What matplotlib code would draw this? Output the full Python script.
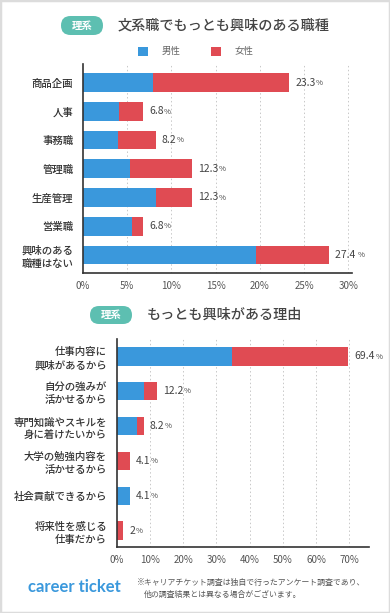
import matplotlib
matplotlib.use('Agg')
import matplotlib.pyplot as plt
from matplotlib.patches import FancyBboxPatch, Rectangle

plt.rcParams['font.family'] = ['Noto Sans CJK JP', 'DejaVu Sans']

# 文系職でもっとも興味のある職種
top_cats = ['商品企画', '人事', '事務職', '管理職', '生産管理', '営業職', '興味のある\n職種はない']
top_male = [7.9, 4.1, 4.0, 5.3, 8.2, 5.5, 19.5]
top_female = [15.4, 2.7, 4.2, 7.0, 4.1, 1.3, 8.3]
top_labels = ['23.3', '6.8', '8.2', '12.3', '12.3', '6.8', '27.4 ']
top_ticks = [0, 5, 10, 15, 20, 25, 30]

# もっとも興味がある理由
bot_cats = ['仕事内容に\n興味があるから', '自分の強みが\n活かせるから', '専門知識やスキルを\n身に着けたいから',
            '大学の勉強内容を\n活かせるから', '社会貢献できるから', '将来性を感じる\n仕事だから']
bot_male = [34.6, 8.2, 6.2, 0, 4.1, 0]
bot_female = [35.1, 4.0, 2.0, 4.1, 0, 2.0]
bot_labels = ['69.4', '12.2', '8.2', '4.1', '4.1', '2']
bot_ticks = [0, 10, 20, 30, 40, 50, 60, 70]

BLUE = '#3a98dc'
RED = '#e04b53'
TEAL = '#5dbfb1'
W, H = 390, 613

fig = plt.figure(figsize=(3.9, 6.13), dpi=100)
fig.patch.set_facecolor('white')


def inch(x, y):
    return x / 100, (H - y) / 100


def badge(x0, y0, x1, y1):
    bx, by = inch(x0, y1)
    h = (y1 - y0) / 100
    p = FancyBboxPatch((bx, by), (x1 - x0) / 100, h, boxstyle=f'round,pad=0,rounding_size={h/2}',
                       transform=fig.dpi_scale_trans, fc=TEAL, ec='none')
    fig.add_artist(p)
    fig.text((x0 + x1) / 2 / W, 1 - (y0 + y1) / 2 / H, '理系', color='white', fontsize=7.5,
             fontweight='bold', ha='center', va='center')


def draw(ax, cats, male, female, labels, ticks, xmax, bar_h):
    y = list(range(len(cats)))
    ax.barh(y, male, height=bar_h, color=BLUE, zorder=3)
    ax.barh(y, female, left=male, height=bar_h, color=RED, zorder=3)
    for i, lbl in enumerate(labels):
        total = male[i] + female[i]
        t = ax.annotate(lbl, xy=(total, i), xytext=(4.3, 0), textcoords='offset points',
                        va='center', ha='left', fontsize=7.5, color='#444')
        ax.annotate('%', xy=(1, 0), xycoords=t, xytext=(0.3, 0.6), textcoords='offset points',
                    va='bottom', ha='left', fontsize=5.6, color='#444')
    ax.set_xlim(0, xmax)
    ax.set_yticks(y, cats, fontsize=7.5, color='#333', linespacing=1.35, fontweight='medium')
    ax.set_xticks(ticks, [f'{v}%' for v in ticks], fontsize=7, color='#555')
    ax.tick_params(length=0, axis='y', pad=7)
    ax.tick_params(length=0, axis='x', pad=6)
    for v in ticks[1:]:
        ax.axvline(v, color='#c8c8c8', lw=0.7, ls=(0, (1.5, 2.5)), zorder=1)
    for s in ['top', 'right']:
        ax.spines[s].set_visible(False)
    for s in ['left', 'bottom']:
        ax.spines[s].set_color('#333')
        ax.spines[s].set_linewidth(1.2)
        ax.spines[s].set_zorder(4)


ax1 = fig.add_axes([83 / W, (H - 273) / H, 269 / W, 209 / H])
draw(ax1, top_cats, top_male, top_female, top_labels, top_ticks, 30.4, 0.65)
ax1.set_ylim(6.63, -0.65)

ax2 = fig.add_axes([116.7 / W, (H - 547) / H, 252.3 / W, 208 / H])
draw(ax2, bot_cats, bot_male, bot_female, bot_labels, bot_ticks, 75.9, 0.53)
ax2.set_ylim(5.47, -0.5)

# titles
badge(61, 16, 103, 35)
fig.text(118 / W, 1 - 25 / H, '文系職でもっとも興味のある職種', fontsize=10.2, color='#444',
         va='center', fontweight='medium')
badge(90, 306, 132, 324)
fig.text(147 / W, 1 - 315 / H, 'もっとも興味がある理由', fontsize=10.2, color='#444',
         va='center', fontweight='medium')

# legend
for x0, col, name in [(138, BLUE, '男性'), (211, RED, '女性')]:
    fig.add_artist(Rectangle(inch(x0, 56), 0.1, 0.09, transform=fig.dpi_scale_trans, fc=col, ec='none'))
    fig.text((x0 + 24) / W, 1 - 51.5 / H, name, fontsize=6.8, color='#666', va='center')

# footer
fig.text(28 / W, 1 - 587 / H, 'career ticket', family='Lato', fontweight='bold', fontsize=12,
         color=BLUE, va='center')
fig.text(137 / W, 1 - 582 / H, '※キャリアチケット調査は独自で行ったアンケート調査であり、',
         fontsize=5.7, color='#555', va='center')
fig.text(144 / W, 1 - 594 / H, '他の調査結果とは異なる場合がございます。',
         fontsize=5.7, color='#555', va='center')

fig.add_artist(Rectangle((0, 0), 1, 1, transform=fig.transFigure, fill=False, ec='#dcdcdc', lw=2.5))

fig.savefig('out.png', dpi=100)
